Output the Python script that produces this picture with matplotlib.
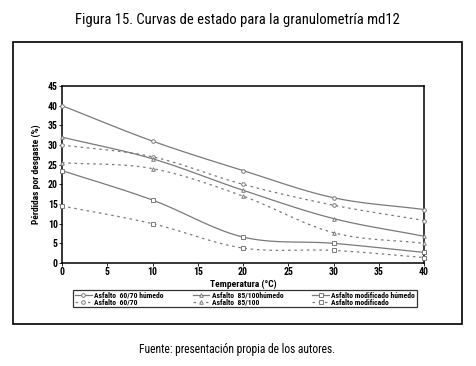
import numpy as np
import matplotlib
matplotlib.use("Agg")
import matplotlib.pyplot as plt
from matplotlib.patches import Rectangle

plt.rcParams['font.family'] = ['Roboto Condensed', 'Liberation Sans Narrow', 'Roboto', 'DejaVu Sans']

temps = [0, 10, 20, 30, 40]
a6070_hum = [40, 31, 23.5, 16.6, 13.6]
a6070 = [30, 27, 20, 14.7, 10.8]
a85100_hum = [32, 26.5, 18.5, 11.3, 6.8]
a85100 = [25.5, 24, 17, 7.7, 5.0]
mod_hum = [23.5, 16, 6.6, 5.0, 2.7]
mod = [14.5, 10, 3.8, 3.2, 1.4]

labels = ['Asfalto  60/70 húmedo', 'Asfalto  60/70',
          'Asfalto  85/100húmedo', 'Asfalto  85/100',
          'Asfalto modificado húmedo', 'Asfalto modificado']


def smooth(x, y, n=20):
    # catmull-rom style smoothing between the measured points
    x = np.asarray(x, float)
    y = np.asarray(y, float)
    px = np.concatenate([[2*x[0]-x[1]], x, [2*x[-1]-x[-2]]])
    py = np.concatenate([[2*y[0]-y[1]], y, [2*y[-1]-y[-2]]])
    xs, ys = [], []
    t = np.linspace(0, 1, n)
    for i in range(1, len(px)-2):
        for p, out in ((px, xs), (py, ys)):
            p0, p1, p2, p3 = p[i-1], p[i], p[i+1], p[i+2]
            out.extend(0.5*((2*p1) + (-p0+p2)*t + (2*p0-5*p1+4*p2-p3)*t**2
                            + (-p0+3*p1-3*p2+p3)*t**3))
    return xs, ys


fig = plt.figure(figsize=(4.77, 3.66), dpi=100)
fig.patch.set_facecolor('white')
ax = fig.add_axes([0.130, 0.2814, 0.759, 0.4836])

series = [(a6070_hum, 'o', '-'), (a6070, 'o', (0, (2, 3))),
          (a85100_hum, '^', '-'), (a85100, '^', (0, (2, 3))),
          (mod_hum, 's', '-'), (mod, 's', (0, (2, 3)))]
gray = '#7a7a7a'
handles = []
for (vals, mk, ls), lab in zip(series, labels):
    sx, sy = smooth(temps, vals)
    ax.plot(sx, sy, color=gray, lw=0.9, ls=ls)
    ms = 3.3 if mk == 's' and ls != '-' else 2.6
    ax.plot(temps, vals, ls='none', marker=mk, ms=ms, mfc='white',
            mec=gray, mew=0.7, clip_on=False, zorder=3)
    h, = ax.plot([], [], color=gray, lw=0.9, ls=ls, marker=mk, ms=2.6,
                 mfc='white', mec=gray, mew=0.7)
    handles.append(h)

ax.set_xlim(0, 40)
ax.set_ylim(0, 45)
ax.set_xticks(np.arange(0, 41, 5))
ax.set_yticks(np.arange(0, 46, 5))
ax.tick_params(labelsize=7, length=2, width=0.6, pad=1)
for lab in ax.get_xticklabels() + ax.get_yticklabels():
    lab.set_fontweight('bold')
for s in ax.spines.values():
    s.set_linewidth(1.1)
ax.set_xlabel('Temperatura (°C)', fontsize=6.8, fontweight='bold', labelpad=2)
ax.set_ylabel('Pérdidas por desgaste (%)', fontsize=6.8, fontweight='bold', labelpad=5)

leg = fig.legend(handles, labels, ncol=3, loc='center',
                 bbox_to_anchor=(0.5136, 0.1844),
                 prop={'weight': 'bold', 'size': 5.5},
                 frameon=True, fancybox=False, edgecolor='black',
                 handlelength=2.2, handletextpad=0.3, columnspacing=3.8,
                 labelspacing=0.0, borderpad=0.25)
leg.get_frame().set_linewidth(0.9)

fig.patches.append(Rectangle((0.0273, 0.1148), 0.941, 0.7705, transform=fig.transFigure,
                             fill=False, edgecolor='black', lw=1.2))

fig.text(0.498, 0.945, 'Figura 15. Curvas de estado para la granulometría md12',
         ha='center', va='center', fontsize=10.5)
fig.text(0.497, 0.044, 'Fuente: presentación propia de los autores.',
         ha='center', va='center', fontsize=8.3)

fig.savefig('out.png', dpi=100)
